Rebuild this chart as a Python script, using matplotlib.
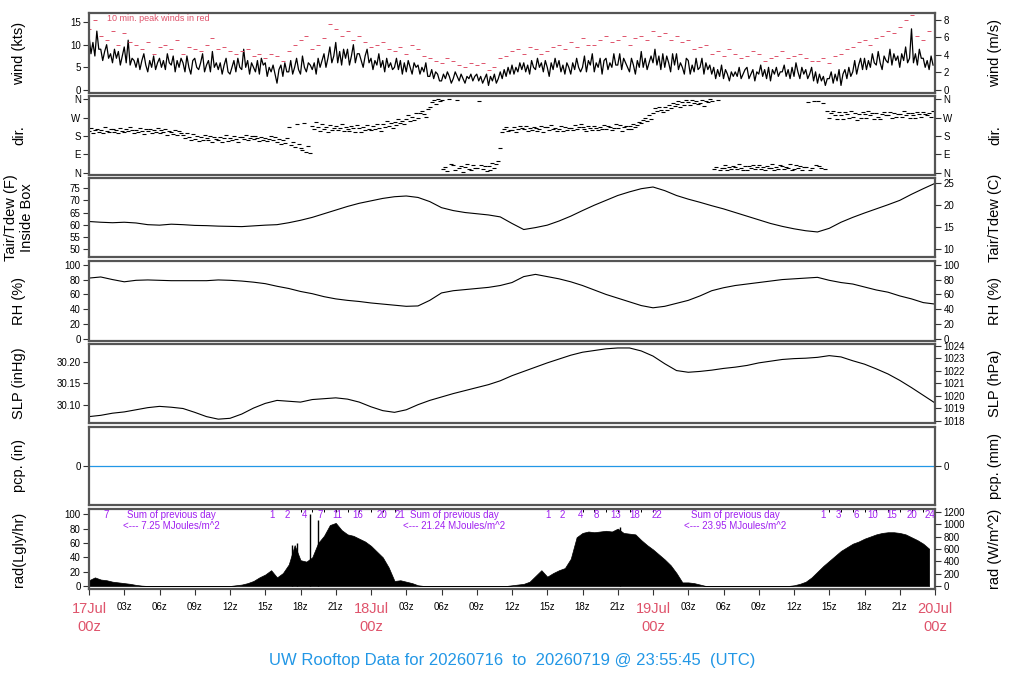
import matplotlib.pyplot as plt
import numpy as np

plt.rcParams['font.family'] = ['Liberation Sans', 'DejaVu Sans']

# time axis: hours since 17 Jul 00z
hrs = np.arange(73)            # hourly samples
half = np.arange(144) / 2.0    # 30 min samples
sixth = np.arange(432) / 6.0   # 10 min samples

# wind speed (kts), 10 min, one row per hour
wind_kts = [
    12, 8, 10.5, 7.5, 13, 9,  9, 6.5, 8.5, 10, 7, 8,  6, 9, 7, 8.5, 5.5, 7.5,  9.5, 6, 11, 5.5, 7, 6.5,
    5, 7, 4.5, 6.5, 8, 5.5,  4, 6.5, 5, 7.5, 4.5, 6,  7, 5, 6.5, 4.5, 8, 6,  5.5, 7.5, 4, 6.5, 5, 7,
    6, 4, 7.5, 5, 3.5, 6.5,  7, 5, 4.5, 6, 8, 4,  5.5, 6.5, 4, 8.5, 5, 6,  4.5, 6, 3.5, 5.5, 7, 4,
    3.5, 5, 6.5, 4, 7, 5,  4.5, 9, 5, 6.5, 3.5, 6,  5, 4, 6.5, 3.5, 7, 5.5,  6, 3, 5, 4, 5.5, 3.5,
    1.5, 4.5, 5.5, 3, 6, 4,  4, 6.5, 3.5, 5, 7, 4.5,  3.5, 7.5, 5, 4, 6, 5.5,  4.5, 6, 3.5, 7, 5, 6.5,
    8, 5, 7, 9.5, 6, 7.5,  10.5, 6, 8.5, 5.5, 9, 7,  9, 5.5, 7.5, 10, 6, 8,  8, 6.5, 5, 7.5, 9, 6,
    7, 4.5, 6.5, 5.5, 8, 5,  6.5, 4, 7, 5, 6, 4.5,  5, 7, 4.5, 6.5, 3.5, 6,  4, 6.5, 5, 3.5, 6, 5,
    5.5, 3.5, 5, 4, 6, 3,  3, 4.5, 2.5, 4, 3.5, 2,  2, 3.5, 2.5, 4, 3, 1.5,  2.5, 4, 3, 2, 3.5, 2.5,
    1.5, 3, 2.5, 3.5, 2, 3,  3.5, 2, 3, 1.5, 2.5, 3.5,  1, 3, 2, 3.5, 1.5, 2.5,  4, 2.5, 4.5, 3, 5, 3.5,
    5.5, 3.5, 5, 4, 6, 4.5,  6, 4, 5.5, 3.5, 6.5, 5,  4.5, 7, 5, 6, 4, 6.5,  5, 3, 6, 4.5, 7, 5,
    6.5, 4, 5.5, 3.5, 6, 5,  3.5, 6, 4.5, 7, 5, 4,  5, 7.5, 4, 6.5, 5.5, 8,  4, 6, 5, 7, 3.5, 6.5,
    7, 4.5, 6, 5, 8, 5.5,  5.5, 8, 4.5, 7, 6, 5,  4, 7, 5.5, 3.5, 6.5, 5,  8.5, 5, 7, 4.5, 6, 7.5,
    6, 9, 5.5, 7.5, 4.5, 8,  5, 7.5, 6, 4, 8, 5.5,  8, 4.5, 6, 5, 3.5, 7,  6.5, 3.5, 5.5, 4, 7, 4.5,
    5, 7, 3.5, 6, 4.5, 5.5,  3.5, 5, 2.5, 4.5, 3, 5.5,  2.5, 4.5, 3.5, 2, 4, 3,  4, 3, 5, 2.5, 3.5, 4.5,
    5, 2.5, 3.5, 4.5, 2, 4,  3.5, 5.5, 3, 4.5, 2.5, 5,  2, 4.5, 3.5, 5, 3, 4,  4, 5.5, 3, 4.5, 2.5, 5,
    3, 6, 4, 2.5, 5, 3.5,  4.5, 2.5, 3.5, 5, 2, 4,  1.5, 3.5, 2, 3, 1, 2.5,  2.5, 4, 1.5, 3.5, 2, 4.5,
    1, 3.5, 4.5, 2.5, 5, 3,  4, 6.5, 3.5, 5.5, 7, 4.5,  7, 4.5, 6.5, 5, 8, 6,  5.5, 8.5, 6, 4.5, 7.5, 6.5,
    6, 9, 5.5, 8, 6.5, 7.5,  5, 8, 6.5, 9.5, 6, 7,  13.5, 6, 8, 5.5, 9, 7,  7, 5, 6.5, 4.5, 7.5, 5.5]

# 10 min peak winds (kts), sampled every 30 min
peak_kts = [13.5, 15.5, 12, 11, 13, 10, 12.5, 10.5, 10, 9, 10.5, 8, 9.5, 10, 9, 11, 8, 9.5, 9, 8.5, 10, 11.5, 9, 9.5,
            8.5, 8, 8.5, 9, 7.5, 8, 7, 8, 7.5, 6.5, 8.5, 10, 11, 12, 9, 10, 11.5, 14.5, 13.5, 12, 13, 11, 12, 10.5,
            9.5, 10, 10.5, 9, 8.5, 9.5, 8, 10, 9, 7.5, 7, 6.5, 6, 7, 6.5, 5.5, 5, 6, 5.5, 6, 4.5, 5, 7, 7.5,
            8.5, 9, 8, 9.5, 9, 8, 8.5, 9.5, 10, 9, 10.5, 9.5, 11.5, 10, 10, 11, 12, 10.5, 11, 12, 10, 11.5, 12, 11,
            13, 12, 12.5, 11, 12, 10.5, 11, 9, 9.5, 10, 8, 8.5, 7.5, 9, 8, 7, 7.5, 8.5, 8, 6.5, 7, 7.5, 8.5, 7,
            7.5, 8, 7, 6.5, 6.5, 7, 6, 7.5, 8, 9, 9.5, 10.5, 11, 10, 11.5, 12, 13, 12.5, 14, 15.5, 16.5, 12, 11, 13]

# wind direction (deg), 10 min, one row per hour
wind_dir = [
    205, 220, 195, 210, 215, 200,  210, 195, 225, 205, 200, 215,  215, 200, 210, 195, 220, 205,
    200, 215, 205, 225, 210, 195,  210, 200, 220, 205, 190, 215,  205, 215, 195, 210, 200, 220,
    195, 210, 200, 215, 185, 205,  200, 190, 210, 185, 205, 195,  185, 170, 195, 175, 160, 190,
    165, 180, 155, 175, 160, 185,  170, 160, 180, 150, 175, 165,  160, 175, 150, 170, 185, 155,
    170, 160, 180, 165, 150, 175,  175, 165, 185, 160, 170, 180,  165, 180, 170, 155, 175, 160,
    170, 155, 165, 180, 160, 175,  150, 165, 140, 160, 145, 170,  225, 135, 150, 125, 240, 140,
    120, 110, 245, 100, 130, 95,  230, 215, 250, 225, 205, 240,  215, 225, 200, 235, 210, 220,
    230, 210, 220, 240, 205, 225,  215, 205, 230, 220, 200, 235,  220, 200, 225, 210, 235, 215,
    210, 230, 215, 240, 220, 205,  240, 225, 255, 230, 245, 220,  250, 235, 265, 245, 255, 240,
    265, 280, 255, 275, 260, 290,  270, 290, 300, 285, 275, 310,  320, 345, 355, 335, 360, 350,
    355, 20, 30, 10, 360, 45,  40, 15, 355, 25, 35, 5,  30, 45, 20, 15, 40, 25,
    25, 350, 40, 20, 35, 10,  35, 15, 50, 25, 45, 60,  120, 200, 215, 225, 205, 210,
    210, 225, 200, 215, 230, 220,  215, 230, 205, 220, 210, 225,  220, 205, 215, 230, 200, 225,
    225, 210, 235, 215, 220, 205,  215, 230, 205, 225, 210, 220,  220, 210, 235, 215, 225, 240,
    225, 215, 205, 230, 220, 210,  230, 220, 210, 225, 215, 235,  215, 230, 225, 210, 220, 240,
    220, 235, 205, 225, 230, 215,  230, 215, 240, 225, 235, 250,  245, 260, 270, 255, 280, 265,
    290, 315, 300, 320, 305, 295,  320, 305, 330, 315, 340, 325,  335, 350, 320, 345, 330, 355,
    345, 330, 355, 340, 350, 335,  340, 355, 325, 350, 345, 360,  350, 20, 30, 355, 15, 25,
    25, 40, 15, 30, 20, 35,  30, 20, 45, 25, 15, 35,  15, 35, 25, 40, 20, 30,
    40, 20, 30, 15, 35, 25,  25, 45, 15, 30, 20, 40,  35, 20, 30, 25, 45, 15,
    20, 40, 25, 35, 15, 30,  30, 345, 15, 25, 350, 40,  350, 35, 25, 340, 20, 300,
    270, 290, 300, 280, 265, 295,  280, 265, 295, 285, 270, 300,  275, 290, 260, 285, 270, 295,
    285, 270, 300, 280, 290, 265,  290, 275, 265, 285, 295, 280,  280, 295, 270, 290, 275, 285,
    285, 275, 300, 280, 290, 270,  290, 280, 270, 295, 285, 275,  295, 285, 280, 290, 275, 300]

# inside box air temperature (F), hourly
tair_f = [61.3, 61.0, 60.8, 61.0, 60.7, 60.0, 59.8, 60.2, 60.0, 59.7, 59.6, 59.4, 59.3, 59.2, 59.5, 59.8,
          60.0, 60.8, 61.8, 63.0, 64.5, 66.0, 67.5, 68.8, 69.8, 70.8, 71.5, 71.8, 71.2, 69.5, 67.0, 65.8,
          65.0, 64.5, 64.0, 63.2, 60.5, 58.0, 58.8, 59.8, 61.5, 63.5, 65.8, 68.0, 70.0, 72.0, 73.5, 74.8,
          75.5, 74.0, 72.0, 70.5, 69.2, 67.8, 66.5, 65.0, 63.5, 62.0, 60.5, 59.3, 58.3, 57.5, 57.0, 58.5,
          61.0, 63.0, 64.8, 66.5, 68.2, 70.0, 72.5, 74.8, 77.0]

# relative humidity (%), hourly
rh = [82, 83.5, 80, 77, 79, 79.5, 79, 78.5, 78.5, 78.5, 78.5, 79.5, 79, 78, 76.5, 74.5,
      71, 68, 64, 61, 57, 54, 52, 50.5, 48.5, 47, 45.5, 44, 44.5, 52, 62, 65,
      66.5, 68, 69.5, 72, 76, 84, 87, 84, 81, 77, 72, 66, 60, 55, 50, 45,
      42, 44, 48, 52, 58, 65, 69, 72, 74, 76, 78, 80, 81, 82, 83, 79,
      76, 74, 70, 66, 63, 58, 54, 49, 47]

# sea level pressure (inHg), hourly
slp = [30.072, 30.075, 30.080, 30.083, 30.088, 30.093, 30.096, 30.094, 30.091, 30.082, 30.072, 30.066,
       30.068, 30.078, 30.092, 30.103, 30.110, 30.108, 30.106, 30.112, 30.114, 30.116, 30.113, 30.106,
       30.095, 30.086, 30.082, 30.088, 30.100, 30.110, 30.118, 30.126, 30.133, 30.140, 30.147, 30.156,
       30.168, 30.178, 30.188, 30.198, 30.207, 30.216, 30.223, 30.227, 30.231, 30.233, 30.233, 30.226,
       30.214, 30.196, 30.180, 30.176, 30.178, 30.181, 30.185, 30.188, 30.192, 30.198, 30.202, 30.206,
       30.208, 30.209, 30.211, 30.215, 30.212, 30.203, 30.195, 30.184, 30.172, 30.157, 30.140, 30.122,
       30.104]

# precipitation (in), hourly
pcp = [0.0] * 73

# solar radiation (Langley/hr), 30 min
rad = [8, 12, 9, 8, 6, 5, 4, 3, 1.5, 0.5,
       0, 0, 0, 0, 0, 0, 0, 0, 0, 0, 0, 0, 0, 0,
       0, 1, 2, 4, 7, 12, 16, 22, 12, 18,
       30, 57, 36, 34, 40, 60, 70, 85, 88, 78, 72, 70, 66, 62, 56, 48, 40, 26, 7, 8, 6, 4, 1,
       0, 0, 0, 0, 0, 0, 0, 0, 0, 0, 0, 0, 0, 0, 0,
       1, 2, 3, 6, 14, 22, 13, 18, 22, 25, 38, 68, 74, 76, 75, 76, 77, 76, 80, 74, 73, 72, 64, 57,
       51, 44, 37, 29, 18, 5, 5, 4, 2,
       0, 0, 0, 0, 0, 0, 0, 0, 0, 0, 0, 0, 0, 0, 0,
       1, 3, 6, 12, 20, 28, 35, 42, 49, 54, 59, 62, 66, 69, 72, 74, 75, 75, 74, 72, 68, 64, 59, 52]
# single-sample spikes (hour, Langley/hr)
spike_hours = [17.3, 17.7, 18.8, 19.5, 45.2]
spike_vals = [57, 60, 101, 92, 82]

# cumulative MJ labels along top of the radiation panel
cum_hours = [1.5, 15.6, 16.9, 18.3, 19.7, 21.1, 22.9, 24.9, 26.5,
             39.1, 40.3, 41.8, 43.2, 44.8, 46.4, 48.3,
             62.5, 63.8, 65.3, 66.7, 68.3, 70.0, 71.6]
cum_labels = ['7', '1', '2', '4', '7', '11', '16', '20', '21',
              '1', '2', '4', '8', '13', '18', '22',
              '1', '3', '6', '10', '15', '20', '24']
sum_hours = [7.0, 31.1, 55.0]
sum_values = ['7.25', '21.24', '23.95']
day_names = ['17Jul', '18Jul', '19Jul', '20Jul']

RED = '#DF536B'
BLUE = '#2297E6'
PURPLE = '#A020F0'

fig = plt.figure(figsize=(10.24, 7), dpi=100)
L, W = 89 / 1024, 846 / 1024


def panel(top_px, bot_px, ylim):
    ax = fig.add_axes([L, 1 - bot_px / 700, W, (bot_px - top_px) / 700])
    ax.set_xlim(0, 72)
    ax.set_ylim(*ylim)
    ax.set_xticks([])
    for s in ax.spines.values():
        s.set_color('#555555')
        s.set_linewidth(1.6)
    ax.tick_params(axis='y', labelsize=7, length=4, width=0.8, pad=2, color='#333333')
    return ax


def right(ax, ylim, ticks, labels=None):
    axr = ax.twinx()
    axr.set_ylim(*ylim)
    axr.set_yticks(ticks)
    if labels is not None:
        axr.set_yticklabels(labels)
    axr.tick_params(axis='y', labelsize=7, length=4, width=0.8, pad=2, color='#333333')
    for s in axr.spines.values():
        s.set_visible(False)
    return axr


def labels(left_txt, right_txt, top_px, bot_px):
    yc = 1 - (top_px + bot_px) / 2 / 700
    fig.text(19 / 1024, yc, left_txt, rotation=90, ha='center', va='center', fontsize=10.5)
    fig.text(995 / 1024, yc, right_txt, rotation=90, ha='center', va='center', fontsize=10.5)


kts_lim = (-0.67, 17.0)
ax1 = panel(13, 93, kts_lim)
ax1.plot(sixth, wind_kts, color='black', lw=0.9)
ax1.plot(half, peak_kts, ls='none', marker='_', ms=3.5, mew=0.7, color=RED)
ax1.set_yticks([0, 5, 10, 15])
ax1.text(1.5, 15.8, '10 min. peak winds in red', color=RED, fontsize=6.5, va='center')
right(ax1, (kts_lim[0] * 0.5144, kts_lim[1] * 0.5144), [0, 2, 4, 6, 8])
labels('wind (kts)', 'wind (m/s)', 13, 93)

dirs = [0, 90, 180, 270, 360]
dir_names = ['N', 'E', 'S', 'W', 'N']
ax2 = panel(96, 175, (-10, 375))
ax2.plot(sixth, wind_dir, ls='none', marker='_', ms=3.5, mew=0.8, color='black')
ax2.set_yticks(dirs)
ax2.set_yticklabels(dir_names)
right(ax2, (-10, 375), dirs, dir_names)
labels('dir.', 'dir.', 96, 175)

f_lim = (46.7, 79.2)
ax3 = panel(178, 257, f_lim)
ax3.plot(hrs, tair_f, color='black', lw=0.8)
ax3.set_yticks([50, 55, 60, 65, 70, 75])
right(ax3, ((f_lim[0] - 32) * 5 / 9, (f_lim[1] - 32) * 5 / 9), [10, 15, 20, 25])
labels('Tair/Tdew (F)\nInside Box', 'Tair/Tdew (C)', 178, 257)

ax4 = panel(261, 341, (-2.7, 105))
ax4.plot(hrs, rh, color='black', lw=0.8)
ax4.set_yticks(range(0, 101, 20))
right(ax4, (-2.7, 105), range(0, 101, 20))
labels('RH (%)', 'RH (%)', 261, 341)

p_lim = (30.057, 30.2423)
ax5 = panel(344, 423, p_lim)
ax5.plot(hrs, slp, color='black', lw=0.8)
ax5.set_yticks([30.10, 30.15, 30.20])
ax5.set_yticklabels(['30.10', '30.15', '30.20'])
right(ax5, (p_lim[0] * 33.8639, p_lim[1] * 33.8639), range(1018, 1025))
labels('SLP (inHg)', 'SLP (hPa)', 344, 423)

ax6 = panel(427, 505, (-1, 1))
ax6.plot(hrs, pcp, color=BLUE, lw=0.9)
ax6.set_yticks([0])
right(ax6, (-1, 1), [0])
labels('pcp. (in)', 'pcp. (mm)', 427, 505)

r_lim = (-4.2, 107.4)
ax7 = panel(509, 589, r_lim)
ax7.fill_between(half, 0, rad, color='black', lw=0.5)
ax7.vlines(spike_hours, 0, spike_vals, color='black', lw=1.0)
ax7.set_yticks(range(0, 101, 20))
right(ax7, (r_lim[0] * 11.622, r_lim[1] * 11.622), range(0, 1201, 200))
labels('rad(Lgly/hr)', 'rad (W/m^2)', 509, 589)

xt = list(range(0, 73, 3))
ax7.set_xticks(xt)
ax7.set_xticklabels(['' if h % 24 == 0 else '%02dz' % (h % 24) for h in xt])
ax7.tick_params(axis='x', labelsize=7, length=4, width=0.8, pad=5, color='#333333')
tr = ax7.get_xaxis_transform()
for i, name in enumerate(day_names):
    ax7.text(24 * i, -0.25, name, transform=tr, color=RED, fontsize=10.5, ha='center', va='center')
    ax7.text(24 * i, -0.475, '00z', transform=tr, color=RED, fontsize=10.5, ha='center', va='center')

# hourly ticks along the top of the radiation panel
for h0, h1 in [(18, 27), (42, 49), (63, 72)]:
    ax7.vlines(np.arange(h0, h1), 103.5, 107.4, color='black', lw=0.7)
for h, t in zip(cum_hours, cum_labels):
    ax7.text(h, 0.925, t, transform=tr, color=PURPLE, fontsize=7, ha='center', va='center')
for h, v in zip(sum_hours, sum_values):
    ax7.text(h, 0.925, 'Sum of previous day', transform=tr, color=PURPLE, fontsize=7,
             ha='center', va='center')
    ax7.text(h, 0.79, '<--- %s MJoules/m^2' % v, transform=tr, color=PURPLE, fontsize=7,
             ha='center', va='center')

fig.text(0.5, 1 - 660 / 700, 'UW Rooftop Data for 20260716  to  20260719 @ 23:55:45  (UTC)',
         color=BLUE, fontsize=12, ha='center', va='center')

fig.savefig('out.png', dpi=100)
